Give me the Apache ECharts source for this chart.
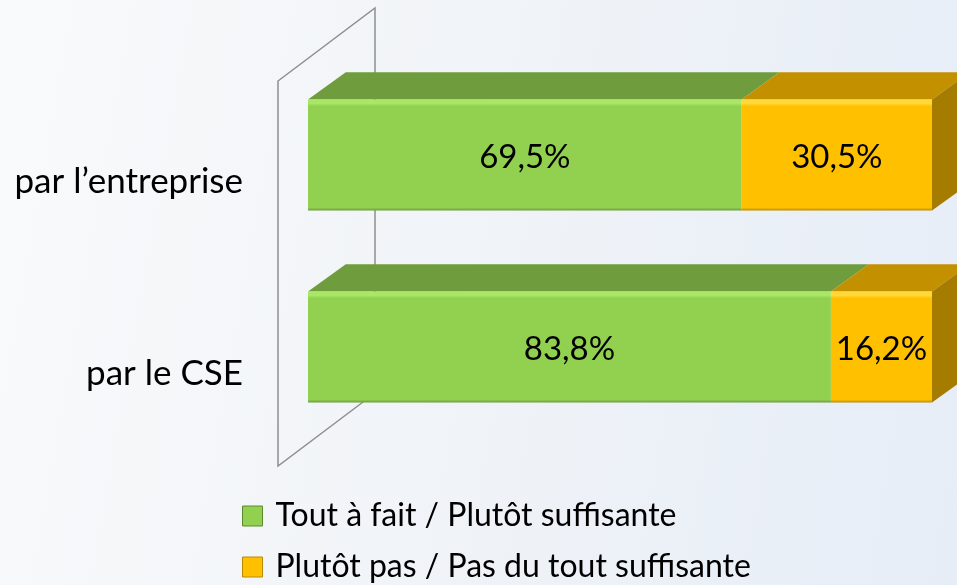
<!DOCTYPE html>
<html>
<head>
<meta charset="utf-8">
<script src="https://cdn.jsdelivr.net/npm/echarts@6/dist/echarts.min.js"></script>
<style>
  html, body { margin: 0; padding: 0; }
  body { background: linear-gradient(100deg, #f9fafb 0%, #f1f4f8 45%, #e6edf7 100%); }
  #chart { width: 957px; height: 585px; }
</style>
</head>
<body>
<div id="chart"></div>
<script>
const categories = ['par l\u2019entreprise', 'par le CSE'];
const seriesNames = ['Tout à fait / Plutôt suffisante', 'Plutôt pas / Pas du tout suffisante'];
const suffisante = [69.5, 83.8];
const pasSuffisante = [30.5, 16.2];

// front / top / side colours for each series
const faces = [
  { front: '#92d050', light: '#a9e866', dark: '#6a9a3a', top: '#6f9c3d', side: '#5c8431', border: '#5c8a2e' },
  { front: '#ffc000', light: '#ffd93c', dark: '#b88a00', top: '#c39000', side: '#a57b00', border: '#b88a00' }
];

const chart = echarts.init(document.getElementById('chart'));

function fmt(v) {
  return v.toFixed(1).replace('.', ',') + '%';
}

// [start, end, categoryIndex]
const greenData = suffisante.map((v, i) => [0, v, i]);
const orangeData = pasSuffisante.map((v, i) => [suffisante[i], suffisante[i] + v, i]);

function makeRender(idx, isLast) {
  const c = faces[idx];
  return function (params, api) {
    const s = api.value(0), e = api.value(1), cat = api.value(2);
    const p0 = api.coord([s, cat]);
    const p1 = api.coord([e, cat]);
    const band = api.size([0, 1])[1];
    const h = band * 0.578;
    const dx = h * 0.34, dy = -h * 0.245;
    const top = p0[1] - h / 2;
    const x0 = p0[0], x1 = p1[0];
    const children = [
      {
        type: 'polygon',
        shape: { points: [[x0, top], [x0 + dx, top + dy], [x1 + dx, top + dy], [x1, top]] },
        style: { fill: c.top }
      },
      {
        type: 'rect',
        shape: { x: x0, y: top, width: x1 - x0, height: h },
        style: {
          fill: new echarts.graphic.LinearGradient(0, 0, 0, 1, [
            { offset: 0, color: c.light },
            { offset: 0.035, color: c.light },
            { offset: 0.06, color: c.front },
            { offset: 0.975, color: c.front },
            { offset: 1, color: c.dark }
          ])
        },
        textContent: {
          style: {
            text: fmt(e - s),
            fontSize: 33,
            fontFamily: 'Lato',
            fill: '#000'
          }
        },
        textConfig: { position: 'inside', offset: [0, 2] }
      }
    ];
    if (isLast) {
      children.push({
        type: 'polygon',
        shape: { points: [[x1, top], [x1 + dx, top + dy], [x1 + dx, top + h + dy], [x1, top + h]] },
        style: { fill: c.side }
      });
    }
    return { type: 'group', children: children };
  };
}

// back wall drawn from the grid rectangle
function renderWall(params, api) {
  const g = params.coordSys;
  const lx = g.x - 30, rx = g.x + 67;
  return {
    type: 'polygon',
    shape: {
      points: [[lx, g.y + 22], [rx, g.y - 51], [rx, g.y + g.height - 50], [lx, g.y + g.height + 23]]
    },
    style: { fill: 'none', stroke: '#8e8e8e', lineWidth: 1.5 }
  };
}

// one legend per row so the rows stack like the reference
function legendRow(i, top) {
  return {
    left: 242,
    top: top,
    padding: 0,
    itemWidth: 20,
    itemHeight: 20,
    icon: 'rect',
    textStyle: { fontSize: 32, fontFamily: 'Lato', color: '#000', lineHeight: 20, padding: [0, 0, 0, 8] },
    data: [{ name: seriesNames[i], itemStyle: { borderColor: faces[i].border, borderWidth: 1 } }]
  };
}

chart.setOption({
  backgroundColor: 'transparent',
  animation: false,
  grid: { left: 308, right: 25, top: 59, bottom: 142 },
  xAxis: { type: 'value', min: 0, max: 100, show: false },
  yAxis: {
    type: 'category',
    data: categories,
    inverse: true,
    axisLine: { show: false },
    axisTick: { show: false },
    splitLine: { show: false },
    axisLabel: {
      margin: 65,
      fontSize: 35,
      fontFamily: 'Lato',
      color: '#000',
      lineHeight: 54,
      formatter: v => '\n' + v
    }
  },
  legend: [legendRow(0, 500), legendRow(1, 551)],
  series: [
    {
      type: 'custom',
      name: 'wall',
      renderItem: renderWall,
      data: [[0, 0, 0]],
      z: 1,
      silent: true
    },
    {
      type: 'custom',
      name: seriesNames[0],
      renderItem: makeRender(0, false),
      encode: { x: [0, 1], y: 2 },
      itemStyle: { color: faces[0].front },
      data: greenData,
      z: 2
    },
    {
      type: 'custom',
      name: seriesNames[1],
      renderItem: makeRender(1, true),
      encode: { x: [0, 1], y: 2 },
      itemStyle: { color: faces[1].front },
      data: orangeData,
      z: 3
    }
  ]
});
</script>
</body>
</html>
